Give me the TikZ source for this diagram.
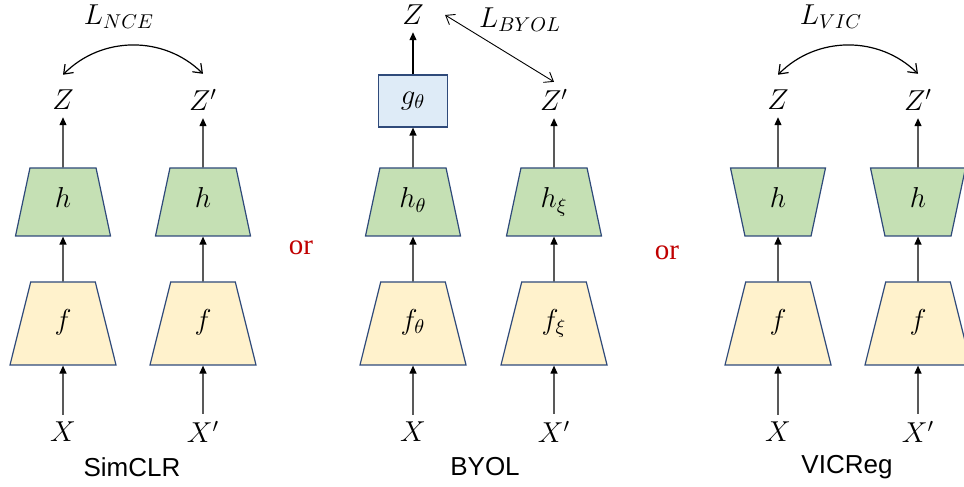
\documentclass[tikz,border=0pt]{standalone}
\usepackage{fontspec}
\setsansfont{Liberation Sans}
\newfontfamily\orfont{Liberation Serif}
\usetikzlibrary{arrows.meta, shapes.geometric}

\definecolor{encfill}{HTML}{FFF2CC}
\definecolor{projfill}{HTML}{C5E0B4}
\definecolor{predfill}{HTML}{DEEBF7}
\definecolor{edgeblue}{HTML}{2F4A7A}
\definecolor{orred}{HTML}{C00000}

\tikzset{
    lbl/.style={inner sep=3.5pt, font=\Large},
    enc/.style={trapezium, trapezium stretches body, draw=edgeblue, line width=0.6pt,
        fill=encfill, minimum width=53pt, text height=9pt, text depth=3pt,
        inner xsep=2pt, inner ysep=14.75pt,
        trapezium left angle=76, trapezium right angle=76, font=\Large},
    proj/.style={trapezium, trapezium stretches body, draw=edgeblue, line width=0.6pt,
        fill=projfill, minimum width=47.5pt, text height=9pt, text depth=3pt,
        inner xsep=2pt, inner ysep=11pt,
        trapezium left angle=78, trapezium right angle=78, font=\Large},
    pred/.style={rectangle, draw=edgeblue, line width=0.6pt, fill=predfill,
        minimum width=34.5pt, minimum height=26pt, font=\Large},
    method/.style={font=\sffamily\fontsize{13}{15}\selectfont},
    ortext/.style={text=orred, font=\orfont\fontsize{14.5}{16}\selectfont},
    flow/.style={-{Triangle[length=4pt,width=3.5pt]}, line width=0.6pt},
    loss/.style={{Straight Barb[length=4pt,width=6pt]}-{Straight Barb[length=4pt,width=6pt]}, line width=0.6pt},
}

\begin{document}
\begin{tikzpicture}[x=0.5pt, y=0.5pt]
    \useasboundingbox (0,0) rectangle (964,487);

    % SimCLR
    \node[lbl]  (xa) at (63,55)    {$X$};
    \node[lbl]  (xb) at (203,55)   {$X'$};
    \node[enc]  (fa) at (63,163.5) {$f$};
    \node[enc]  (fb) at (203,163.5) {$f$};
    \node[proj] (ha) at (63,285)   {$h$};
    \node[proj] (hb) at (203,285)  {$h$};
    \node[lbl]  (za) at (63,387)   {$Z$};
    \node[lbl]  (zb) at (203,387)  {$Z'$};
    \node[lbl]  (la) at (119,470)  {$L_{NCE}$};
    \node[method] (simclr) at (132,20) {SimCLR};

    \draw[flow] (xa) -- (fa);
    \draw[flow] (xb) -- (fb);
    \draw[flow] (fa) -- (ha);
    \draw[flow] (fb) -- (hb);
    \draw[flow] (ha) -- (za);
    \draw[flow] (hb) -- (zb);
    \draw[loss] ([yshift=4pt]za.north) to[bend left=45] ([yshift=4pt]zb.north);

    \node[ortext] (or1) at (301,239) {or};

    % BYOL
    \node[lbl]  (xc) at (413,55)    {$X$};
    \node[lbl]  (xd) at (554,55)    {$X'$};
    \node[enc]  (fc) at (413,163.5) {$f_\theta$};
    \node[enc]  (fd) at (554,163.5) {$f_\xi$};
    \node[proj] (hc) at (413,285)   {$h_\theta$};
    \node[proj] (hd) at (554,285)   {$h_\xi$};
    \node[pred] (gc) at (413,386)   {$g_\theta$};
    \node[lbl]  (zc) at (413,472)   {$Z$};
    \node[lbl]  (zd) at (554,387)   {$Z'$};
    \node[lbl]  (lc) at (520,467)   {$L_{BYOL}$};
    \node[method] (byol) at (485,20)  {BYOL};

    \draw[flow] (xc) -- (fc);
    \draw[flow] (xd) -- (fd);
    \draw[flow] (fc) -- (hc);
    \draw[flow] (fd) -- (hd);
    \draw[flow] (hc) -- (gc);
    \draw[flow] (gc) -- (zc);
    \draw[flow] (hd) -- (zd);
    \draw[loss, line width=0.45pt] ([xshift=7pt]zc.east) -- (zd.north);

    \node[ortext] (or2) at (667,234) {or};

    % VICReg
    \node[lbl]  (xe) at (778,55)    {$X$};
    \node[lbl]  (xf) at (918,55)    {$X'$};
    \node[enc]  (fe) at (778,163.5) {$f$};
    \node[enc]  (ff) at (918,163.5) {$f$};
    \node[proj, shape border rotate=180] (he) at (778,285) {$h$};
    \node[proj, shape border rotate=180] (hf) at (918,285) {$h$};
    \node[lbl]  (ze) at (778,387)   {$Z$};
    \node[lbl]  (zf) at (918,387)   {$Z'$};
    \node[lbl]  (le) at (831,470)   {$L_{VIC}$};
    \node[method] (vicreg) at (847,20) {VICReg};

    \draw[flow] (xe) -- (fe);
    \draw[flow] (xf) -- (ff);
    \draw[flow] (fe) -- (he);
    \draw[flow] (ff) -- (hf);
    \draw[flow] (he) -- (ze);
    \draw[flow] (hf) -- (zf);
    \draw[loss] ([yshift=4pt]ze.north) to[bend left=45] ([yshift=4pt]zf.north);
\end{tikzpicture}
\end{document}
